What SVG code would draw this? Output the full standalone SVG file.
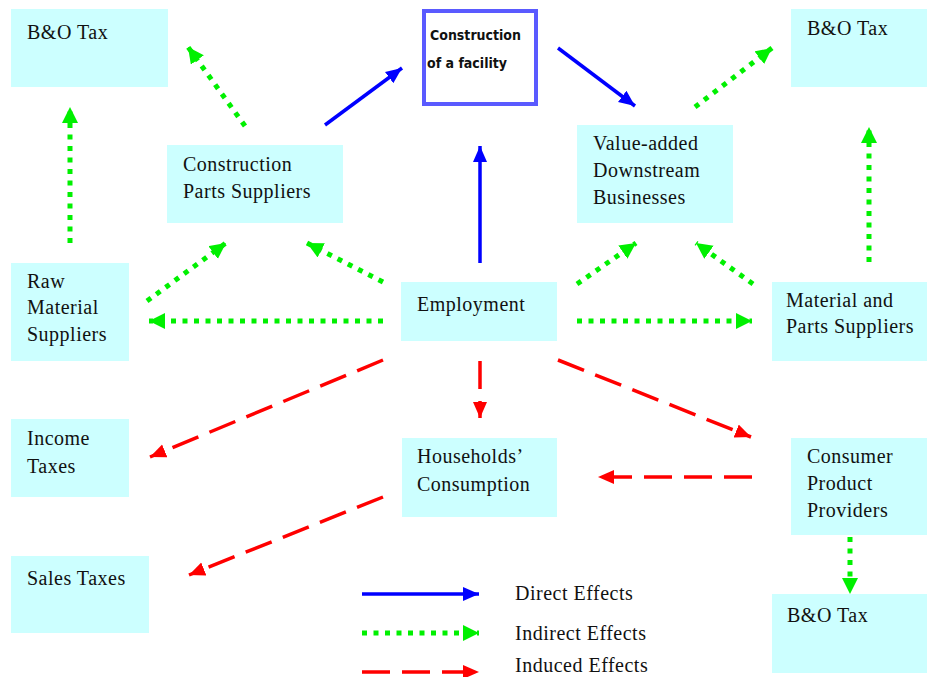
<svg xmlns="http://www.w3.org/2000/svg" width="927" height="677" viewBox="0 0 927 677">
<style>
.box{fill:#ccffff}
.t{font-family:"Liberation Serif","Times New Roman",serif;font-size:20px;letter-spacing:0.5px;fill:#111}
.ft{font-family:"DejaVu Sans Condensed","DejaVu Sans",sans-serif;font-weight:bold;font-size:14px;fill:#111}
.blue{stroke:#0000ff;stroke-width:3.5;fill:none}
.green{stroke:#00f000;stroke-width:5;stroke-dasharray:5 6.5;fill:none}
.red{stroke:#ff0000;stroke-width:3.5;stroke-dasharray:28 12;fill:none}
</style>
<defs>
<marker id="hb" markerUnits="userSpaceOnUse" markerWidth="18" markerHeight="16" refX="16" refY="7" orient="auto"><path d="M0,0 L16,7 L0,14 Z" fill="#0000ff"/></marker>
<marker id="hg" markerUnits="userSpaceOnUse" markerWidth="18" markerHeight="18" refX="16" refY="8" orient="auto"><path d="M0,0 L16,8 L0,16 Z" fill="#00f000"/></marker>
<marker id="hr" markerUnits="userSpaceOnUse" markerWidth="18" markerHeight="16" refX="16" refY="7" orient="auto"><path d="M0,0 L16,7 L0,14 Z" fill="#ff0000"/></marker>
</defs>
<rect width="927" height="677" fill="#fff"/>

<g id="bo-tax-1"><rect class="box" x="11" y="9" width="157" height="78"/><text class="t" x="27" y="39">B&amp;O Tax</text></g>
<g id="construction-facility"><rect x="424" y="11" width="112" height="93" fill="#fff" stroke="#5a5aff" stroke-width="4"/><text class="ft" x="430" y="40">Construction</text><text class="ft" x="427" y="68">of a facility</text></g>
<g id="bo-tax-2"><rect class="box" x="791" y="9" width="136" height="78"/><text class="t" x="807" y="35">B&amp;O Tax</text></g>
<g id="construction-parts"><rect class="box" x="167" y="145" width="176" height="78"/><text class="t" x="183" y="171">Construction</text><text class="t" x="183" y="198">Parts Suppliers</text></g>
<g id="value-added"><rect class="box" x="577" y="125" width="156" height="98"/><text class="t" x="593" y="150">Value-added</text><text class="t" x="593" y="177">Downstream</text><text class="t" x="593" y="204">Businesses</text></g>
<g id="raw-material"><rect class="box" x="11" y="263" width="118" height="98"/><text class="t" x="27" y="288">Raw</text><text class="t" x="27" y="314">Material</text><text class="t" x="27" y="341">Suppliers</text></g>
<g id="employment"><rect class="box" x="401" y="282" width="156" height="59"/><text class="t" x="417" y="311">Employment</text></g>
<g id="material-parts"><rect class="box" x="772" y="282" width="155" height="79"/><text class="t" x="786" y="307">Material and</text><text class="t" x="786" y="333">Parts Suppliers</text></g>
<g id="income-taxes"><rect class="box" x="11" y="419" width="118" height="78"/><text class="t" x="27" y="445">Income</text><text class="t" x="27" y="473">Taxes</text></g>
<g id="households"><rect class="box" x="402" y="438" width="155" height="79"/><text class="t" x="417" y="463">Households’</text><text class="t" x="417" y="491">Consumption</text></g>
<g id="consumer-providers"><rect class="box" x="791" y="438" width="136" height="97"/><text class="t" x="807" y="463">Consumer</text><text class="t" x="807" y="490">Product</text><text class="t" x="807" y="517">Providers</text></g>
<g id="sales-taxes"><rect class="box" x="11" y="556" width="138" height="77"/><text class="t" x="27" y="585">Sales Taxes</text></g>
<g id="bo-tax-3"><rect class="box" x="772" y="594" width="155" height="79"/><text class="t" x="787" y="622">B&amp;O Tax</text></g>

<g id="connectors">
<line class="blue" x1="325" y1="125" x2="402" y2="68" marker-end="url(#hb)"/>
<line class="blue" x1="558" y1="48" x2="635" y2="106" marker-end="url(#hb)"/>
<line class="blue" x1="480" y1="263" x2="480" y2="146" marker-end="url(#hb)"/>
<line class="green" x1="245" y1="126" x2="188" y2="47" marker-end="url(#hg)"/>
<line class="green" x1="70" y1="243" x2="70" y2="107" marker-end="url(#hg)"/>
<line class="green" x1="147" y1="301" x2="226" y2="243" marker-end="url(#hg)"/>
<line class="green" x1="383" y1="282" x2="307" y2="243" marker-end="url(#hg)"/>
<line class="green" x1="383" y1="321" x2="149" y2="321" marker-end="url(#hg)"/>
<line class="green" x1="577" y1="284" x2="636" y2="243" marker-end="url(#hg)"/>
<line class="green" x1="753" y1="284" x2="696" y2="243" marker-end="url(#hg)"/>
<line class="green" x1="577" y1="321" x2="752" y2="321" marker-end="url(#hg)"/>
<line class="green" x1="695" y1="107" x2="772" y2="48" marker-end="url(#hg)"/>
<line class="green" x1="869" y1="262" x2="869" y2="127" marker-end="url(#hg)"/>
<line class="green" x1="850" y1="537" x2="850" y2="594" marker-end="url(#hg)"/>
<line class="red" x1="383" y1="360" x2="150" y2="457" marker-end="url(#hr)"/>
<line class="red" x1="480" y1="361" x2="480" y2="418" marker-end="url(#hr)"/>
<line class="red" x1="558" y1="360" x2="751" y2="437" marker-end="url(#hr)"/>
<line class="red" x1="752" y1="477" x2="598" y2="477" marker-end="url(#hr)"/>
<line class="red" x1="383" y1="497" x2="189" y2="575" marker-end="url(#hr)"/>
</g>

<g id="legend">
<line class="blue" x1="362" y1="594" x2="479" y2="594" marker-end="url(#hb)"/>
<line class="green" x1="362" y1="633" x2="479" y2="633" marker-end="url(#hg)"/>
<line class="red" x1="362" y1="672" x2="479" y2="672" marker-end="url(#hr)"/>
<text class="t" x="515" y="600">Direct Effects</text>
<text class="t" x="515" y="640">Indirect Effects</text>
<text class="t" x="515" y="672">Induced Effects</text>
</g>
</svg>
